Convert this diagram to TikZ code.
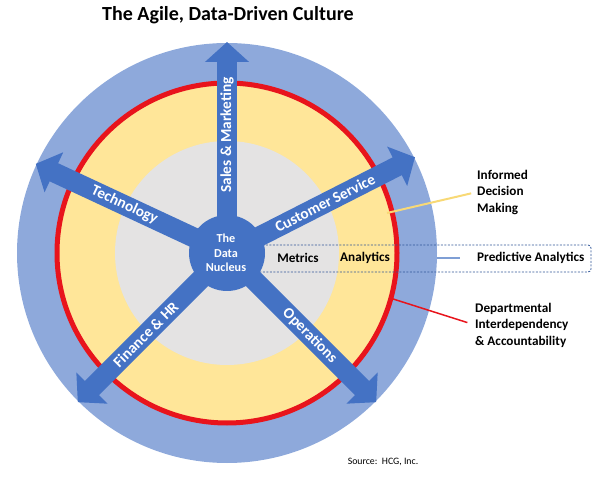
\documentclass[tikz,border=0pt]{standalone}
\usepackage{fontspec}
\setmainfont{Carlito}
\usetikzlibrary{arrows.meta,calc}
\definecolor{ringblue}{HTML}{8EA9DB}
\definecolor{arrowblue}{HTML}{4472C4}
\definecolor{ringred}{HTML}{E8141C}
\definecolor{ringyellow}{HTML}{FFE699}
\definecolor{coregray}{HTML}{E4E3E3}
\definecolor{leaderyellow}{HTML}{F8D976}
\definecolor{boxnavy}{HTML}{2F5597}
\definecolor{shortblue}{HTML}{7F9FD5}
\begin{document}
\begin{tikzpicture}[x=1pt,y=1pt,
  spoke/.style={arrowblue, line width=20pt, -{Triangle[width=43pt,length=20pt]}},
  spokelabel/.style={text=white, font=\fontsize{15.3}{16}\selectfont\bfseries, inner sep=0pt},
  sidelabel/.style={anchor=west, align=left, inner sep=0pt, font=\fontsize{13.2}{16.5}\selectfont\bfseries},
  ringlabel/.style={inner sep=0pt, font=\fontsize{13.2}{15}\selectfont\bfseries}
]
\useasboundingbox (0,0) rectangle (600,477);
\coordinate (c) at (227,224);
% title
\node[inner sep=0pt, font=\fontsize{20}{22}\selectfont\bfseries] (title) at (228,462) {The Agile, Data-Driven Culture};
% rings
\fill[ringblue] (c) circle[radius=210];
\filldraw[fill=ringyellow, draw=ringred, line width=5pt] (c) circle[radius=170];
\fill[coregray] (c) circle[radius=112];
% leaders and labels
\node[sidelabel] (informed) at (477,285) {Informed\\Decision\\Making};
\node[sidelabel] (depart) at (475,152) {Departmental\\Interdependency\\\& Accountability};
\coordinate (ystart) at (387,264);
\coordinate (rstart) at (390,179);
\draw[leaderyellow, line width=2pt, shorten >=6pt] (ystart) -- (informed.west);
\draw[ringred, line width=1.5pt, shorten >=8pt] (rstart) -- (depart.west);
% predictive analytics box
\draw[boxnavy, line width=0.8pt, dash pattern=on 2pt off 1.5pt, rounded corners=3pt] (250,205) rectangle (591,232);
\node[sidelabel] (predictive) at (477,219) {Predictive Analytics};
\coordinate (pa1) at (437,219);
\draw[shortblue, line width=2.5pt] (pa1) -- ($(predictive.west)+(-17,0)$);
\node[ringlabel] (metrics) at (298,219) {Metrics};
\node[ringlabel] (analytics) at (365,219) {Analytics};
% spokes
\coordinate (tsales) at ($(c)+(90:211)$);
\coordinate (tcust) at ($(c)+(27:211)$);
\coordinate (ttech) at ($(c)+(155:211)$);
\coordinate (tfin) at ($(c)+(225:211)$);
\coordinate (tops) at ($(c)+(315:211)$);
\foreach \t in {tsales,tcust,ttech,tfin,tops}{
  \draw[spoke] (c) -- (\t);
}
\fill[arrowblue] (c) circle[radius=38];
\node[text=white, align=center, inner sep=0pt, font=\fontsize{12.2}{14.5}\selectfont\bfseries] (nucleus) at (226,224) {The\\Data\\Nucleus};
% spoke labels
\node[spokelabel, rotate=90] (lsales) at ($(c)+(90:118)$) {Sales \& Marketing};
\node[spokelabel, rotate=27] (lcust) at ($(c)+(27:110)$) {Customer Service};
\node[spokelabel, rotate=-25] (ltech) at ($(c)+(155:113)$) {Technology};
\node[spokelabel, rotate=45] (lfin) at ($(c)+(225:115)$) {Finance \& HR};
\node[spokelabel, rotate=-45] (lops) at ($(c)+(315:117)$) {Operations};
% source
\node[inner sep=0pt, font=\fontsize{9.8}{11}\selectfont] (source) at (383,15) {Source:\ \ HCG, Inc.};
\end{tikzpicture}
\end{document}
